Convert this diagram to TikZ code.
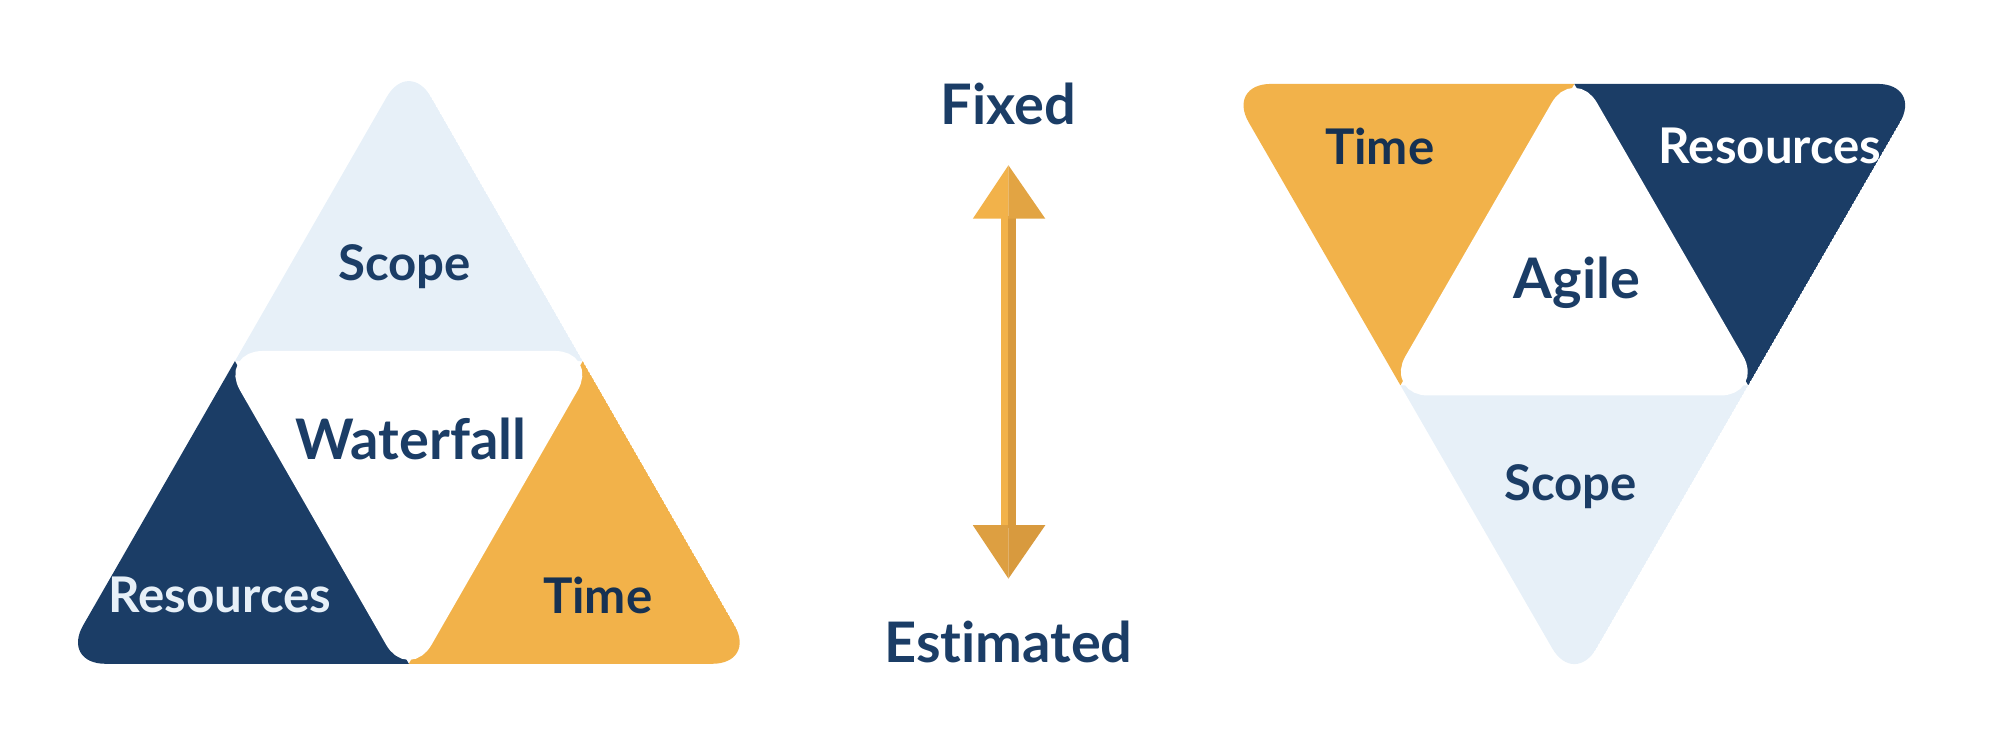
\documentclass[tikz,border=0pt]{standalone}
\usepackage{fontspec}
\setmainfont{Lato}[Ligatures={NoCommon}]
\definecolor{navy}{HTML}{1B3D66}
\definecolor{gold}{HTML}{F2B24A}
\definecolor{golddk}{HTML}{D89A3E}
\definecolor{pale}{HTML}{E7F0F8}
\definecolor{paletxt}{HTML}{E7F0F8}
\begin{document}
\begin{tikzpicture}[x=0.01cm,y=-0.01cm,
  outer/.style={rounded corners=0.35cm},
  gap/.style={fill=white,draw=white,line width=0.16cm,rounded corners=0.22cm},
  lbl/.style={font=\bfseries\fontsize{11}{13}\selectfont,text=navy},
  big/.style={font=\bfseries\fontsize{12.5}{14}\selectfont,text=navy}]
\useasboundingbox (0,0) rectangle (1568,574);
% Waterfall
\coordinate (wa) at (321.5,46);
\coordinate (wl) at (48,522);
\coordinate (wr) at (595,522);
\coordinate (wml) at (184.75,284);
\coordinate (wmr) at (458.25,284);
\coordinate (wmb) at (321.5,522);
\begin{scope}
\clip[outer] (wa) -- (wr) -- (wl) -- cycle;
\fill[pale] (wa) -- (wmr) -- (wml) -- cycle;
\fill[navy] (wml) -- (wmb) -- (wl) -- cycle;
\fill[gold] (wmr) -- (wr) -- (wmb) -- cycle;
\path[gap] (wml) -- (wmr) -- (wmb) -- cycle;
\end{scope}
\node[lbl] (wscope) at (318,210) {Scope};
\node[big] (wname) at (323,345) {Waterfall};
\node[lbl,text=paletxt] (wres) at (173,468) {Resources};
\node[lbl,text=navy!80!black] (wtime) at (470,468) {Time};
% Agile
\coordinate (ab) at (1238,540);
\coordinate (al) at (964.5,66);
\coordinate (ar) at (1511.5,66);
\coordinate (amt) at (1238,66);
\coordinate (aml) at (1101.25,303);
\coordinate (amr) at (1374.75,303);
\begin{scope}
\clip[outer] (al) -- (ar) -- (ab) -- cycle;
\fill[gold] (al) -- (amt) -- (aml) -- cycle;
\fill[navy] (amt) -- (ar) -- (amr) -- cycle;
\fill[pale] (aml) -- (amr) -- (ab) -- cycle;
\path[gap] (amt) -- (amr) -- (aml) -- cycle;
\end{scope}
\node[lbl,text=navy!80!black] (atime) at (1085,115) {Time};
\node[lbl,text=white] (ares) at (1392,115) {Resources};
\node[big] (aname) at (1240,222) {Agile};
\node[lbl] (ascope) at (1235,383) {Scope};
% Arrow
\node[big] (fixed) at (793,82) {Fixed};
\node[big] (est) at (793,505) {Estimated};
\fill[gold] (787,170) rectangle (793,415);
\fill[golddk] (793,170) rectangle (799,415);
\fill[gold] (793,130) -- (765,172) -- (793,172) -- cycle;
\fill[golddk!60!gold] (793,130) -- (822,172) -- (793,172) -- cycle;
\fill[golddk!80!gold] (765,413) -- (793,455) -- (793,413) -- cycle;
\fill[golddk] (822,413) -- (793,455) -- (793,413) -- cycle;
\end{tikzpicture}
\end{document}
